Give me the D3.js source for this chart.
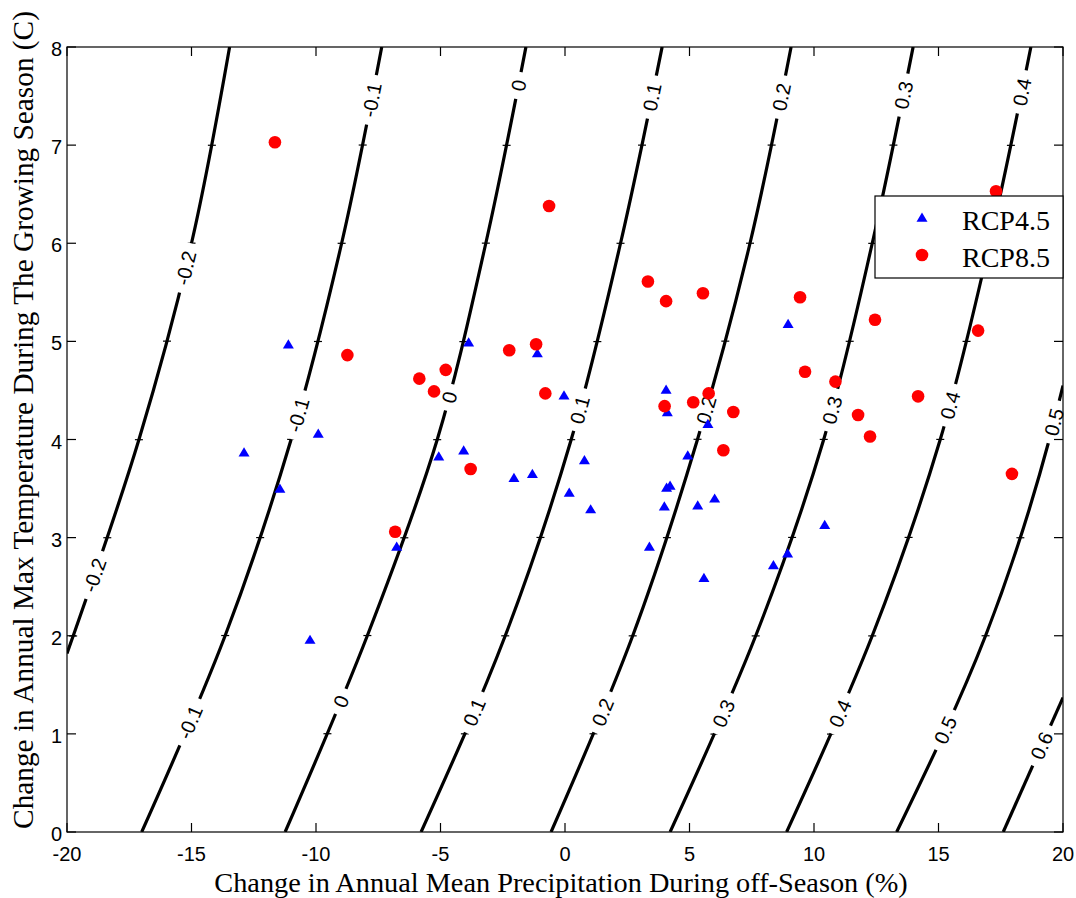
<!DOCTYPE html>
<html>
<head>
<meta charset="utf-8">
<script src="https://cdn.jsdelivr.net/npm/d3@7"></script>
<style>
  body { margin: 0; background: #fff; }
  svg { display: block; }
</style>
</head>
<body>
<svg id="chart" width="1076" height="898"></svg>
<script>
const svg = d3.select("#chart");
const width = +svg.attr("width");
const height = +svg.attr("height");
const margin = { top: 47, right: 13, bottom: 66, left: 67 };
const iw = width - margin.left - margin.right;
const ih = height - margin.top - margin.bottom;

// axis ticks
const xTicks = [-20, -15, -10, -5, 0, 5, 10, 15, 20];
const yTicks = [0, 1, 2, 3, 4, 5, 6, 7, 8];

// contour lines: [precip change %, temp change C]
const levels = [-0.2, -0.1, 0, 0.1, 0.2, 0.3, 0.4, 0.5, 0.6];
const contourPts = [
  [[-20, 1.82], [-19.75, 2], [-17.11, 4], [-15.0, 6], [-13.47, 8]],
  [[-17.0, 0], [-13.65, 2], [-11.0, 4], [-8.97, 6], [-7.36, 8]],
  [[-11.24, 0], [-7.94, 2], [-5.13, 4], [-3.18, 6], [-1.57, 8]],
  [[-5.78, 0], [-2.40, 2], [0.25, 4], [2.23, 6], [3.90, 8]],
  [[-0.56, 0], [2.72, 2], [5.32, 4], [7.43, 6], [9.08, 8]],
  [[4.22, 0], [7.66, 2], [10.39, 4], [12.34, 6], [13.98, 8]],
  [[8.90, 0], [12.34, 2], [15.07, 4], [17.05, 6], [18.71, 8]],
  [[13.32, 0], [16.89, 2], [19.45, 4], [20, 4.55]],
  [[17.60, 0], [20, 1.37]]
];

// inline contour labels (level, temperature where the label sits)
const labelLevel = [-0.2, -0.2, -0.1, -0.1, -0.1, 0, 0, 0, 0.1, 0.1, 0.1,
  0.2, 0.2, 0.2, 0.3, 0.3, 0.3, 0.4, 0.4, 0.4, 0.5, 0.5, 0.6];
const labelTemp = [5.75, 2.62, 7.46, 4.25, 1.12, 7.61, 4.43, 1.33, 7.49, 4.30, 1.22,
  7.49, 4.30, 1.22, 7.51, 4.30, 1.21, 7.54, 4.35, 1.21, 4.18, 1.04, 0.88];

// scatter: RCP4.5 (triangles) and RCP8.5 (circles)
const rcp45X = [-12.89, -11.11, -11.45, -9.91, -10.24, -6.76, -5.07, -4.07, -3.87, -2.05,
  -1.31, -1.11, -0.04, 0.17, 0.78, 1.03, 3.39, 4.06, 4.11, 4.08, 4.22, 3.99, 4.93, 5.33,
  6.01, 5.58, 5.74, 8.37, 8.94, 8.96, 10.43];
const rcp45Y = [3.87, 4.97, 3.50, 4.06, 1.96, 2.91, 3.83, 3.89, 4.99, 3.61,
  3.65, 4.88, 4.45, 3.46, 3.79, 3.29, 2.91, 4.51, 4.28, 3.51, 3.53, 3.32, 3.84, 3.33,
  3.40, 2.59, 4.16, 2.72, 2.84, 5.18, 3.13];
const rcp85X = [-11.65, -8.74, -5.85, -5.26, -4.79, -6.82, -3.79, -2.24, -1.16, -0.79,
  -0.64, 3.33, 4.06, 5.54, 4.00, 5.15, 5.77, 6.76, 6.36, 9.44, 9.64, 10.86, 11.77, 12.25,
  12.45, 14.18, 16.59, 17.31, 17.95];
const rcp85Y = [7.03, 4.86, 4.62, 4.49, 4.71, 3.06, 3.70, 4.91, 4.97, 4.47,
  6.38, 5.61, 5.41, 5.49, 4.34, 4.38, 4.47, 4.28, 3.89, 5.45, 4.69, 4.59, 4.25, 4.03,
  5.22, 4.44, 5.11, 6.53, 3.65];

const x = d3.scaleLinear().domain([-20, 20]).range([0, iw]);
const y = d3.scaleLinear().domain([0, 8]).range([ih, 0]);

const g = svg.append("g").attr("transform", `translate(${margin.left},${margin.top})`);

const defs = svg.append("defs");
defs.append("clipPath").attr("id", "plotclip")
  .append("rect").attr("width", iw).attr("height", ih);
const mask = defs.append("mask").attr("id", "gaps")
  .attr("maskUnits", "userSpaceOnUse")
  .attr("x", -margin.left).attr("y", -margin.top).attr("width", width).attr("height", height);
mask.append("rect")
  .attr("x", -margin.left).attr("y", -margin.top)
  .attr("width", width).attr("height", height).attr("fill", "#fff");

// contour lines
const lineGen = d3.line().x(d => x(d[0])).y(d => y(d[1])).curve(d3.curveMonotoneY);
const cg = g.append("g").attr("clip-path", "url(#plotclip)")
  .append("g").attr("mask", "url(#gaps)");
const paths = cg.selectAll("path.contour")
  .data(contourPts)
  .join("path")
    .attr("class", "contour")
    .attr("d", lineGen)
    .attr("fill", "none")
    .attr("stroke", "#000")
    .attr("stroke-width", 3.2);

// find the point on a contour at a given pixel height
function pointAt(node, py) {
  const total = node.getTotalLength();
  let best = 0, bestD = Infinity;
  for (let L = 0; L <= total; L += 0.5) {
    const p = node.getPointAtLength(L);
    const dd = Math.abs(p.y - py);
    if (dd < bestD) { bestD = dd; best = L; }
  }
  const p = node.getPointAtLength(best);
  const a = node.getPointAtLength(Math.max(0, best - 4));
  const b = node.getPointAtLength(Math.min(total, best + 4));
  return { x: p.x, y: p.y, angle: Math.atan2(b.y - a.y, b.x - a.x) * 180 / Math.PI };
}

// little cross marks where the lines pass whole degrees
paths.each(function(pts) {
  const node = this;
  const lo = d3.min(pts, d => d[1]), hi = d3.max(pts, d => d[1]);
  yTicks.filter(t => t > lo && t < hi).forEach(t => {
    const p = pointAt(node, y(t));
    cg.append("line")
      .attr("x1", p.x - 4).attr("x2", p.x + 4)
      .attr("y1", p.y).attr("y2", p.y)
      .attr("stroke", "#000").attr("stroke-width", 1.2);
  });
});

// contour labels
const lg = g.append("g");
labelLevel.forEach((lv, i) => {
  const node = paths.nodes()[levels.indexOf(lv)];
  const p = pointAt(node, y(labelTemp[i]));
  const t = lg.append("text")
    .attr("transform", `translate(${p.x},${p.y}) rotate(${p.angle})`)
    .attr("text-anchor", "middle")
    .attr("dy", "0.36em")
    .attr("font-family", "Liberation Sans, Arial, sans-serif")
    .attr("font-size", 20)
    .text(String(lv));
  const w = t.node().getComputedTextLength() + 16;
  mask.append("rect")
    .attr("transform", `translate(${p.x},${p.y}) rotate(${p.angle})`)
    .attr("x", -w / 2).attr("y", -7).attr("width", w).attr("height", 14)
    .attr("fill", "#000");
});

// points
const tri = "M0,-5L5.5,4.2L-5.5,4.2Z";
g.append("g").selectAll("path")
  .data(d3.range(rcp45X.length))
  .join("path")
    .attr("d", tri)
    .attr("transform", i => `translate(${x(rcp45X[i])},${y(rcp45Y[i])})`)
    .attr("fill", "#0000ff");
g.append("g").selectAll("circle")
  .data(d3.range(rcp85X.length))
  .join("circle")
    .attr("cx", i => x(rcp85X[i]))
    .attr("cy", i => y(rcp85Y[i]))
    .attr("r", 6.3)
    .attr("fill", "#ff0000");

// axes (box with inward ticks on all sides)
const tl = 9;
const ax = g.append("g").attr("stroke", "#000").attr("stroke-width", 1.2);
ax.append("rect").attr("width", iw).attr("height", ih).attr("fill", "none");
xTicks.forEach(t => {
  ax.append("line").attr("x1", x(t)).attr("x2", x(t)).attr("y1", ih).attr("y2", ih - tl);
  ax.append("line").attr("x1", x(t)).attr("x2", x(t)).attr("y1", 0).attr("y2", tl);
});
yTicks.forEach(t => {
  ax.append("line").attr("x1", 0).attr("x2", tl).attr("y1", y(t)).attr("y2", y(t));
  ax.append("line").attr("x1", iw).attr("x2", iw - tl).attr("y1", y(t)).attr("y2", y(t));
});

const tickFont = "Liberation Sans, Arial, sans-serif";
g.append("g").selectAll("text")
  .data(xTicks)
  .join("text")
    .attr("x", d => x(d))
    .attr("y", ih + 29)
    .attr("text-anchor", "middle")
    .attr("font-family", tickFont)
    .attr("font-size", 20)
    .text(d => d);
g.append("g").selectAll("text")
  .data(yTicks)
  .join("text")
    .attr("x", -5)
    .attr("y", d => y(d) + 9)
    .attr("text-anchor", "end")
    .attr("font-family", tickFont)
    .attr("font-size", 20)
    .text(d => d);

// axis titles
const titleFont = "Liberation Serif, Times New Roman, serif";
svg.append("text")
  .attr("x", 561)
  .attr("y", 892)
  .attr("text-anchor", "middle")
  .attr("font-family", titleFont)
  .attr("font-size", 28.3)
  .text("Change in Annual Mean Precipitation During off-Season (%)");
svg.append("text")
  .attr("transform", "translate(33,420) rotate(-90)")
  .attr("text-anchor", "middle")
  .attr("font-family", titleFont)
  .attr("font-size", 29.3)
  .text("Change in Annual Max Temperature During The Growing Season (C)");

// legend
const leg = svg.append("g").attr("transform", "translate(875,196)");
leg.append("rect").attr("width", 188).attr("height", 82)
  .attr("fill", "#fff").attr("stroke", "#000").attr("stroke-width", 1.2);
leg.append("path").attr("d", tri).attr("transform", "translate(47,21.5)").attr("fill", "#0000ff");
leg.append("circle").attr("cx", 47).attr("cy", 59).attr("r", 6.3).attr("fill", "#ff0000");
leg.append("text").attr("x", 87).attr("y", 34)
  .attr("font-family", titleFont).attr("font-size", 28).text("RCP4.5");
leg.append("text").attr("x", 87).attr("y", 71)
  .attr("font-family", titleFont).attr("font-size", 28).text("RCP8.5");
</script>
</body>
</html>
